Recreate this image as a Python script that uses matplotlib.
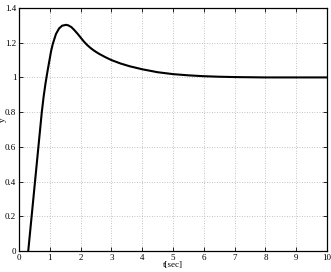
import matplotlib.pyplot as plt

# step response
t = [0.30, 0.41, 0.52, 0.63, 0.74, 0.80, 0.86, 0.92, 0.98, 1.04,
     1.10, 1.20, 1.30, 1.40, 1.53, 1.60, 1.70, 1.80, 1.90, 2.00,
     2.10, 2.20, 2.30, 2.40, 2.50, 2.60, 2.80, 3.00, 3.30, 3.60,
     4.00, 4.50, 5.00, 5.50, 6.00, 6.50, 7.00, 8.00, 9.00, 10.0]
y = [0.0, 0.20, 0.40, 0.60, 0.80, 0.89, 0.965, 1.03, 1.09, 1.15,
     1.195, 1.25, 1.282, 1.298, 1.303, 1.300, 1.290, 1.272, 1.252, 1.230,
     1.208, 1.189, 1.173, 1.159, 1.147, 1.136, 1.117, 1.100, 1.080, 1.064,
     1.047, 1.030, 1.019, 1.012, 1.007, 1.004, 1.002, 1.0, 1.0, 1.0]

xticks = list(range(0, 11))
yticks = [0, 0.2, 0.4, 0.6, 0.8, 1, 1.2, 1.4]
ytick_labels = ["0", "0.2", "0.4", "0.6", "0.8", "1", "1.2", "1.4"]

plt.rcParams['font.family'] = ['Liberation Serif', 'DejaVu Serif']

fig = plt.figure(figsize=(3.31, 2.72), dpi=100)
ax = fig.add_axes([0.0574, 0.0772, 0.9306, 0.8934])

ax.plot(t, y, color='black', linewidth=1.5)

ax.set_xlim(0, 10)
ax.set_ylim(0, 1.4)
ax.set_xticks(xticks)
ax.set_yticks(yticks)
ax.set_yticklabels(ytick_labels)
ax.tick_params(direction='in', top=True, right=True, labelsize=6.5,
               length=3, width=0.6, pad=2)
ax.grid(True, linestyle=(0, (1, 2)), color='#b0b0b0', linewidth=0.6)

for s in ax.spines.values():
    s.set_linewidth(0.9)

ax.set_xlabel("t[sec]", fontsize=6.5, labelpad=-0.5)
ax.set_ylabel("y", fontsize=6.5)
ax.yaxis.set_label_coords(-0.04, 0.54)

fig.savefig("out.png", dpi=100)
